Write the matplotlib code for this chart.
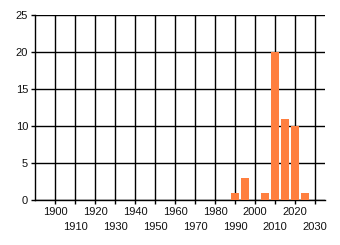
import matplotlib
matplotlib.use('Agg')
import matplotlib.pyplot as plt
import numpy as np

# values
years = [1990, 1995, 2005, 2010, 2015, 2020, 2025]
counts = [1, 3, 1, 20, 11, 10, 1]
major_years = [1900, 1920, 1940, 1960, 1980, 2000, 2020]
minor_years = [1910, 1930, 1950, 1970, 1990, 2010, 2030]
y_ticks = [0, 5, 10, 15, 20, 25]

plt.rcParams['font.family'] = ['Liberation Sans', 'DejaVu Sans']

fig = plt.figure(figsize=(3.4, 2.45), dpi=100)
ax = fig.add_axes([35/340, 45/245, 290/340, 185/245])

ax.bar(years, counts, width=4, color='#ff7f3f', zorder=3)

ax.set_xlim(1890, 2035)
ax.set_ylim(0, 25)
ax.set_xticks(major_years)
ax.set_xticks(minor_years, minor=True)
ax.set_xticklabels([str(y) for y in major_years])
ax.set_xticklabels([str(y) for y in minor_years], minor=True)
ax.set_yticks(y_ticks)

ax.grid(True, which='both', color='black', linewidth=1, zorder=0)
ax.set_axisbelow(True)
ax.tick_params(axis='both', which='both', length=3, width=1, color='black',
               labelsize=8, labelcolor='#111111')
ax.tick_params(axis='x', which='major', pad=2)
ax.tick_params(axis='x', which='minor', pad=13)
ax.tick_params(axis='y', pad=2)

for s in ['top', 'right']:
    ax.spines[s].set_visible(False)
for s in ['left', 'bottom']:
    ax.spines[s].set_linewidth(1)

fig.savefig('out.png', dpi=100)
